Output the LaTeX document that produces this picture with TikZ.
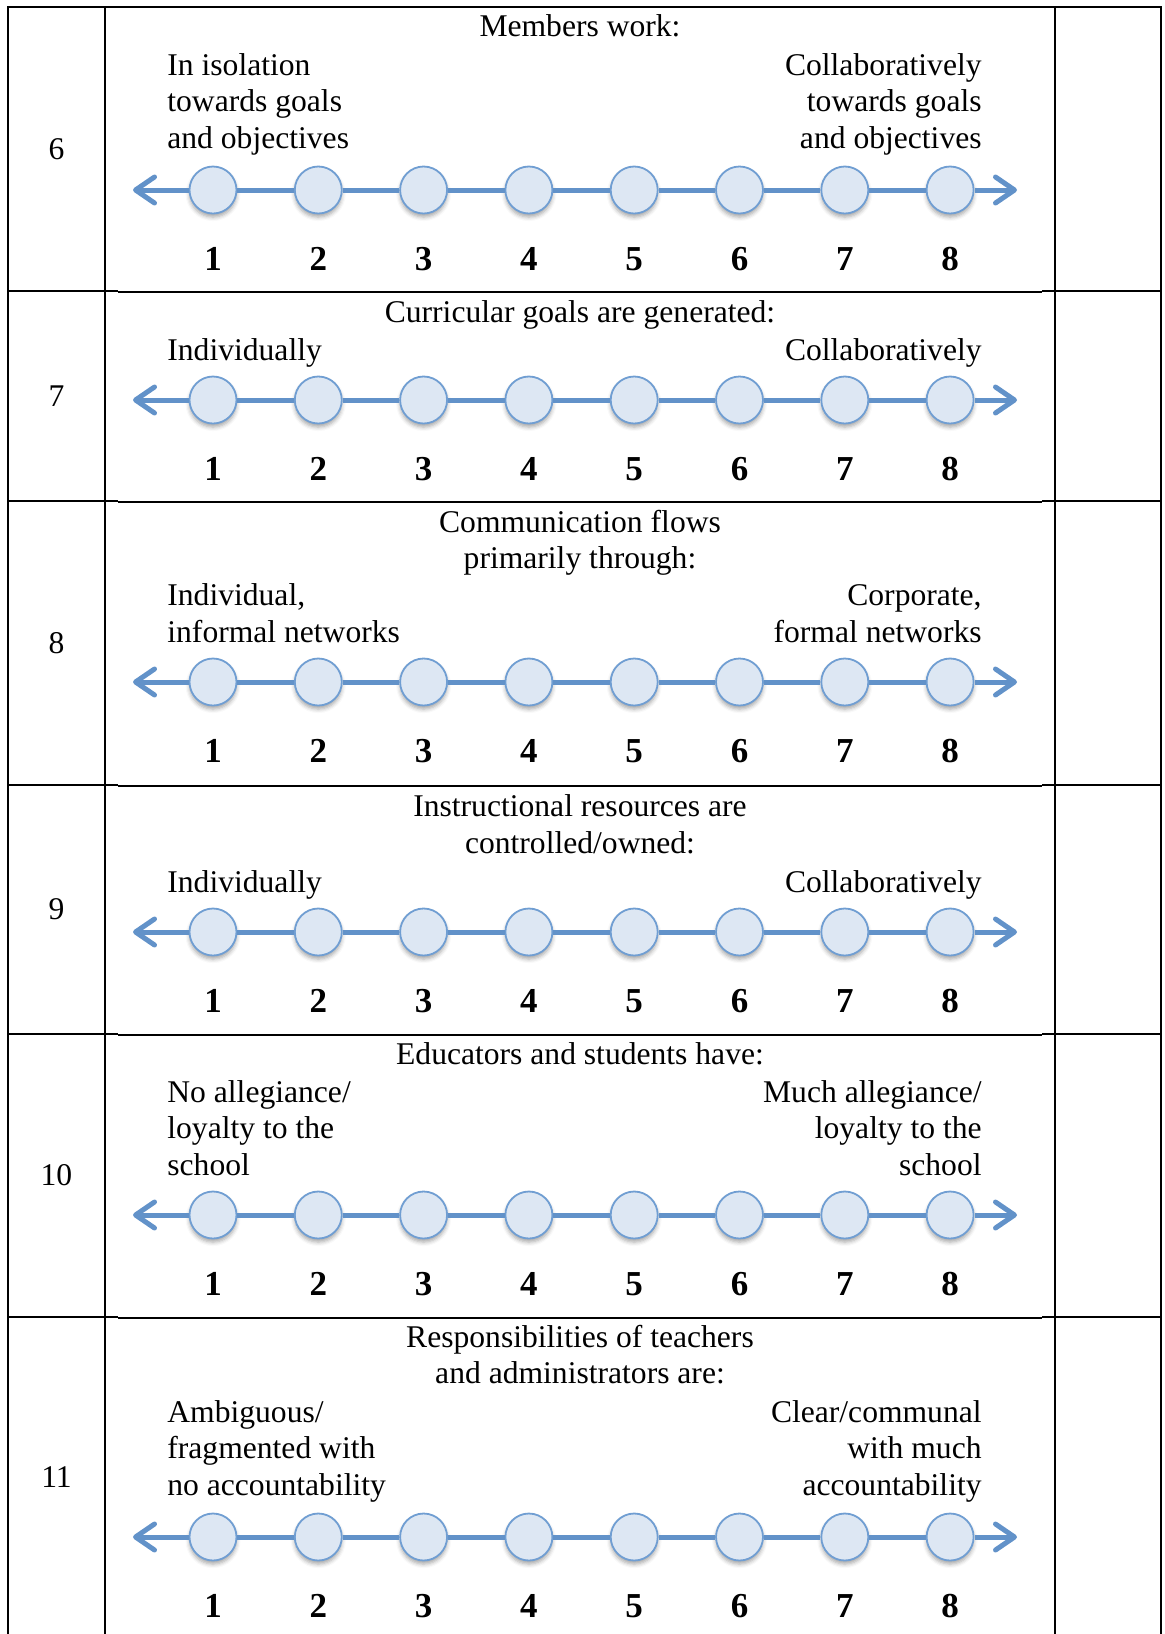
\documentclass[tikz,border=0pt]{standalone}
\usepackage{fontspec}
\setmainfont{Liberation Serif}
\usetikzlibrary{arrows.meta,shadows.blur}

\definecolor{axisblue}{RGB}{98,146,201}
\definecolor{dotfill}{RGB}{221,231,243}
\definecolor{dotedge}{RGB}{112,158,210}

\tikzset{
  txt/.style={inner sep=0pt, font=\fontsize{15.8pt}{18pt}\selectfont},
  rownum/.style={inner sep=0pt, font=\fontsize{15.8pt}{18pt}\selectfont},
  dot/.style={circle, minimum size=23.5pt, inner sep=0pt, fill=dotfill,
    draw=dotedge, line width=0.9pt,
    blur shadow={shadow xshift=0pt, shadow yshift=-1.8pt,
      shadow blur radius=2pt, shadow opacity=35}},
  num/.style={inner sep=0pt, anchor=base, font=\fontsize{17.5pt}{18pt}\selectfont\bfseries},
  axis/.style={draw=axisblue, line width=2.5pt},
  rule/.style={line width=1.4pt},
  hair/.style={line width=0.55pt},
}

% lines of text set one below the other, 36.5 units apart
\newcommand\textlines[5]{%
  \foreach \t [count=\i from 0] in {#5}
    \node[txt, anchor=#4] (#1-\i) at (#2,{#3+36.5*\i}) {\t};
}

% the eight-point rating scale with its arrows and numbers
\newcommand\ratingline[2]{%
  \coordinate (#1-L) at (133,#2);
  \coordinate (#1-R) at (1017,#2);
  \foreach \k in {1,...,8} {
    \node[dot] (#1-c\k) at ({213+105.3*(\k-1)},#2) {};
    \node[num] (#1-n\k) at ({213+105.3*(\k-1)},{#2+80}) {\k};
  }
  \draw[axis, {Straight Barb[length=9.5pt,width=13pt,round]}-] (#1-L) -- (#1-c1);
  \foreach \k [evaluate=\k as \j using int(\k+1)] in {1,...,7}
    \draw[axis] (#1-c\k) -- (#1-c\j);
  \draw[axis, -{Straight Barb[length=9.5pt,width=13pt,round]}] (#1-c8) -- (#1-R);
}

\begin{document}
\begin{tikzpicture}[x=0.5pt, y=-0.5pt]
  \useasboundingbox (0,0) rectangle (1164,1634);

  % table frame
  \draw[rule, line cap=rect] (8,7) -- (1161,7);
  \foreach \x in {8,105,1055,1161}
    \draw[rule] (\x,7) -- (\x,1640);
  \foreach \y in {291,501,785,1034,1317} {
    \draw[rule] (8,\y) -- (118,\y);
    \draw[hair] (118,\y+1) -- (1042,\y+1);
    \draw[rule] (1042,\y) -- (1161,\y);
  }

  % row numbers
  \node[rownum] (n6)  at (56.5,149)    {6};
  \node[rownum] (n7)  at (56.5,396)    {7};
  \node[rownum] (n8)  at (56.5,643)    {8};
  \node[rownum] (n9)  at (56.5,909.5)  {9};
  \node[rownum] (n10) at (56.5,1175.5) {10};
  \node[rownum] (n11) at (56.5,1477)   {11};

  % item 6
  \textlines{a-t}{580}{36}{base}{Members work:}
  \textlines{a-l}{167}{75}{base west}{In isolation, towards goals, and objectives}
  \textlines{a-r}{982}{75}{base east}{Collaboratively, towards goals, and objectives}
  \ratingline{a}{190}

  % item 7
  \textlines{b-t}{580}{322}{base}{Curricular goals are generated:}
  \textlines{b-l}{167}{360}{base west}{Individually}
  \textlines{b-r}{982}{360}{base east}{Collaboratively}
  \ratingline{b}{400}

  % item 8
  \textlines{c-t}{580}{532}{base}{Communication flows, primarily through:}
  \textlines{c-l}{167}{605.5}{base west}{{Individual,}, informal networks}
  \textlines{c-r}{982}{605.5}{base east}{{Corporate,}, formal networks}
  \ratingline{c}{682}

  % item 9
  \textlines{d-t}{580}{816.5}{base}{Instructional resources are, controlled/owned:}
  \textlines{d-l}{167}{892}{base west}{Individually}
  \textlines{d-r}{982}{892}{base east}{Collaboratively}
  \ratingline{d}{932}

  % item 10
  \textlines{e-t}{580}{1064}{base}{Educators and students have:}
  \textlines{e-l}{167}{1102}{base west}{No allegiance/, loyalty to the, school}
  \textlines{e-r}{982}{1102}{base east}{Much allegiance/, loyalty to the, school}
  \ratingline{e}{1215}

  % item 11
  \textlines{f-t}{580}{1347}{base}{Responsibilities of teachers, and administrators are:}
  \textlines{f-l}{167}{1422}{base west}{Ambiguous/, fragmented with, no accountability}
  \textlines{f-r}{982}{1422}{base east}{Clear/communal, with much, accountability}
  \ratingline{f}{1537}
\end{tikzpicture}
\end{document}
